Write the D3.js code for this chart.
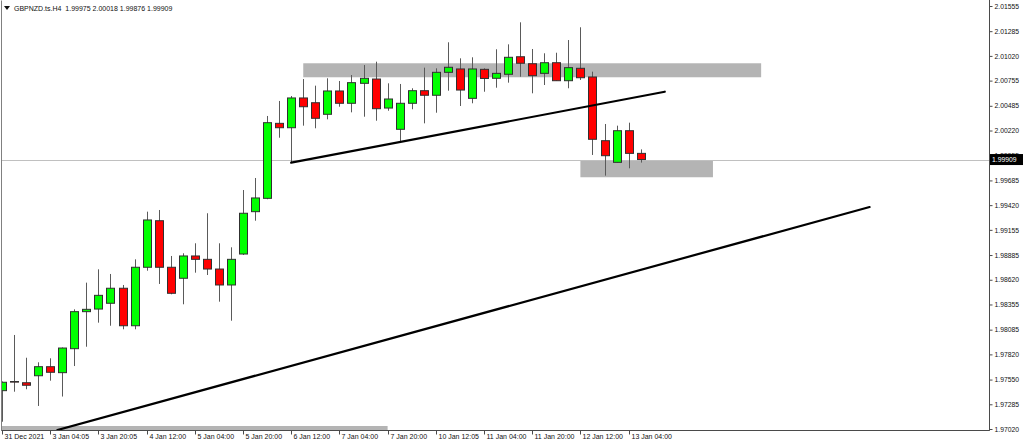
<!DOCTYPE html>
<html><head><meta charset="utf-8">
<script src="https://cdn.jsdelivr.net/npm/d3@7"></script>
<style>
body{margin:0;background:#fff;}
svg{display:block;}
text{font-family:"Liberation Sans",Arial,sans-serif;}
</style>
</head><body>
<svg id="c" width="1024" height="447"></svg>
<script>
const symbol = "GBPNZD.ts.H4";

const open = [
1.97431,1.97529,1.97516,1.97591,1.97688,1.97624,1.97881,1.98278,1.98306,1.98368,
1.98529,1.98127,1.98754,1.99253,1.98754,1.98636,1.98875,1.98839,1.98735,1.98564,
1.98896,1.99350,1.99493,2.00297,2.00250,2.00569,2.00518,2.00394,2.00644,2.00512,
2.00726,2.00772,2.00461,2.00233,2.00512,2.00647,2.00598,2.00844,2.00880,2.00565,
2.00876,2.00780,2.00823,2.01011,2.00936,2.00833,2.00947,2.00754,2.00887,2.00794,
2.00111,1.99879,2.00218,1.99975];
const high = [
1.97530,1.98028,1.97784,1.97735,1.97778,1.97894,1.98303,1.98589,1.98732,1.98682,
1.98564,1.98839,1.99350,1.99368,1.98875,1.98904,1.99011,1.99333,1.99011,1.98968,
1.99582,1.99711,2.00376,2.00537,2.00590,2.00772,2.00701,2.00780,2.00751,2.00815,
2.00922,2.00958,2.00726,2.00719,2.00673,2.00894,2.00887,2.01166,2.00994,2.01005,
2.00887,2.01091,2.01144,2.01380,2.01094,2.01048,2.01054,2.01190,2.01327,2.00851,
2.00290,2.00272,2.00304,2.00018];
const low = [
1.97098,1.97420,1.97446,1.97267,1.97538,1.97368,1.97695,1.97902,1.98160,1.98127,
1.98089,1.98089,1.98717,1.98575,1.98464,1.98357,1.98696,1.98671,1.98385,1.98181,
1.98886,1.99253,1.99483,2.00143,1.99875,2.00272,2.00244,2.00340,2.00475,2.00415,
2.00368,2.00325,2.00432,2.00100,2.00448,2.00297,2.00411,2.00647,2.00483,2.00512,
2.00636,2.00679,2.00733,2.00797,2.00619,2.00708,2.00751,2.00673,2.00762,1.99958,
1.99736,1.99877,1.99815,1.99876];
const close = [
1.97521,1.97526,1.97489,1.97688,1.97628,1.97888,1.98278,1.98303,1.98453,1.98529,
1.98127,1.98754,1.99261,1.98754,1.98475,1.98875,1.98839,1.98735,1.98564,1.98839,
1.99333,1.99497,2.00304,2.00250,2.00569,2.00475,2.00351,2.00644,2.00512,2.00733,
2.00780,2.00454,2.00558,2.00512,2.00647,2.00598,2.00844,2.00898,2.00654,2.00880,
2.00778,2.00833,2.01005,2.00941,2.00808,2.00947,2.00754,2.00894,2.00786,2.00126,
1.99950,2.00218,1.99975,1.99909];

const timeLabels = ["31 Dec 2021","3 Jan 04:05","3 Jan 20:05","4 Jan 12:00","5 Jan 04:00","5 Jan 20:00","6 Jan 12:00","7 Jan 04:00","7 Jan 20:00","10 Jan 12:05","11 Jan 04:00","11 Jan 20:00","12 Jan 12:00","13 Jan 04:00"];
const timeLabelBars = [0,4,8,12,16,20,24,28,32,36,40,44,48,52];

const priceTicks = [2.01555,2.01285,2.01020,2.00755,2.00485,2.00220,1.99955,1.99685,1.99420,1.99155,1.98885,1.98620,1.98355,1.98085,1.97820,1.97550,1.97285,1.97020];

// rectangle zones (bar index range, price range)
const zoneStartBar = [25, 48, -2];
const zoneEndBar   = [63, 59, 32];
const zoneHigh     = [2.00941, 1.99896, 1.97052];
const zoneLow      = [2.00791, 1.99719, 1.96900];

// trend lines
const trendStartBar   = [24, 4.6];
const trendStartPrice = [1.99875, 1.97009];
const trendEndBar     = [55, 72];
const trendEndPrice   = [2.00636, 1.99400];

const svg = d3.select("#c");
const plotL = 1.5, plotR = 989.5, plotT = 0.5, plotB = 430.5;
const x = d3.scaleLinear().domain([0, 82]).range([2, 2 + 82 * 12.05]);
const y = d3.scaleLinear().domain([1.97020, 2.01555]).range([429, 6]);

svg.append("rect").attr("width",1024).attr("height",447).attr("fill","#fff");

svg.append("defs").append("clipPath").attr("id","plot")
  .append("rect").attr("x",2).attr("y",1).attr("width",987).attr("height",429);

const g = svg.append("g").attr("clip-path","url(#plot)");

// zones
g.selectAll("rect.zone").data(zoneStartBar.map((s,i)=>i)).enter().append("rect")
  .attr("class","zone")
  .attr("x", i => x(zoneStartBar[i]))
  .attr("width", i => x(zoneEndBar[i]) - x(zoneStartBar[i]))
  .attr("y", i => y(zoneHigh[i]))
  .attr("height", i => y(zoneLow[i]) - y(zoneHigh[i]))
  .attr("fill","#b4b4b4");

// current price line
const lastPrice = close[close.length-1];
g.append("line").attr("x1",0).attr("x2",990)
  .attr("y1", Math.round(y(lastPrice))+0.5).attr("y2", Math.round(y(lastPrice))+0.5)
  .attr("stroke","#c0c0c0").attr("stroke-width",1);

// candles
const idx = d3.range(open.length);
const cg = g.selectAll("g.candle").data(idx).enter().append("g");
cg.append("line")
  .attr("x1", i => Math.round(x(i))+0.5).attr("x2", i => Math.round(x(i))+0.5)
  .attr("y1", i => y(high[i])).attr("y2", i => y(low[i]))
  .attr("stroke","#5a5a5a").attr("stroke-width",1);
cg.append("rect")
  .attr("x", i => Math.round(x(i))-3.5)
  .attr("width", 8)
  .attr("y", i => y(Math.max(open[i], close[i])))
  .attr("height", i => Math.max(0.6, Math.abs(y(open[i]) - y(close[i]))))
  .attr("fill", i => close[i] >= open[i] ? "#00ff00" : "#ff0000")
  .attr("stroke","#303030").attr("stroke-width",1);

// trend lines
g.selectAll("line.trend").data(trendStartBar.map((s,i)=>i)).enter().append("line")
  .attr("x1", i => x(trendStartBar[i])).attr("y1", i => y(trendStartPrice[i]))
  .attr("x2", i => x(trendEndBar[i])).attr("y2", i => y(trendEndPrice[i]))
  .attr("stroke","#000").attr("stroke-width",2.2).attr("stroke-linecap","round");

// frame
svg.append("path")
  .attr("d", `M${plotL},${plotT}V${plotB}H${plotR}V${plotT}`)
  .attr("fill","none").attr("stroke","#808080").attr("stroke-width",1);
svg.append("line").attr("x1",plotL).attr("x2",plotR).attr("y1",plotB).attr("y2",plotB).attr("stroke","#4a4a4a");
svg.append("line").attr("x1",plotR).attr("x2",plotR).attr("y1",0).attr("y2",plotB).attr("stroke","#4a4a4a");

// y axis
const yAxis = d3.axisRight(y).tickValues(priceTicks).tickFormat(d3.format(".5f")).tickSize(3).tickSizeOuter(0).tickPadding(2);
const ya = svg.append("g").attr("transform",`translate(${plotR},0)`).call(yAxis);
ya.select(".domain").remove();
ya.selectAll("line").attr("stroke","#4a4a4a");
ya.selectAll("text").attr("font-family","Liberation Sans, Arial, sans-serif").attr("font-size",6.8).attr("fill","#111");

// x axis
const xAxis = d3.axisBottom(x).tickValues(timeLabelBars).tickFormat((d,i)=>timeLabels[i]).tickSize(4).tickSizeOuter(0);
const xa = svg.append("g").attr("transform",`translate(0,${plotB})`).call(xAxis);
xa.select(".domain").remove();
xa.selectAll(".tick").attr("transform", d => `translate(${Math.round(x(d))+0.5},0)`);
xa.selectAll("line").attr("stroke","#4a4a4a");
xa.selectAll("text").attr("text-anchor","start").attr("x",2).attr("y",4).attr("dy","0.71em")
  .attr("font-family","Liberation Sans, Arial, sans-serif").attr("font-size",7).attr("fill","#111");

// current price label
const ly = y(lastPrice);
svg.append("rect").attr("x",990).attr("y",ly-5.5).attr("width",33).attr("height",11).attr("fill","#000");
svg.append("text").attr("x",992).attr("y",ly+2.5).attr("fill","#fff").attr("font-size",6.8)
  .text(d3.format(".5f")(lastPrice));

// header
svg.append("path").attr("d","M4,6 L10,6 L7,10 Z").attr("fill","#111");
const n = open.length-1;
svg.append("text").attr("x",14).attr("y",11).attr("font-size",7).attr("fill","#111")
  .attr("xml:space","preserve")
  .text(`${symbol}  ${d3.format(".5f")(open[n])} ${d3.format(".5f")(high[n])} ${d3.format(".5f")(low[n])} ${d3.format(".5f")(close[n])}`);
</script>
</body></html>
